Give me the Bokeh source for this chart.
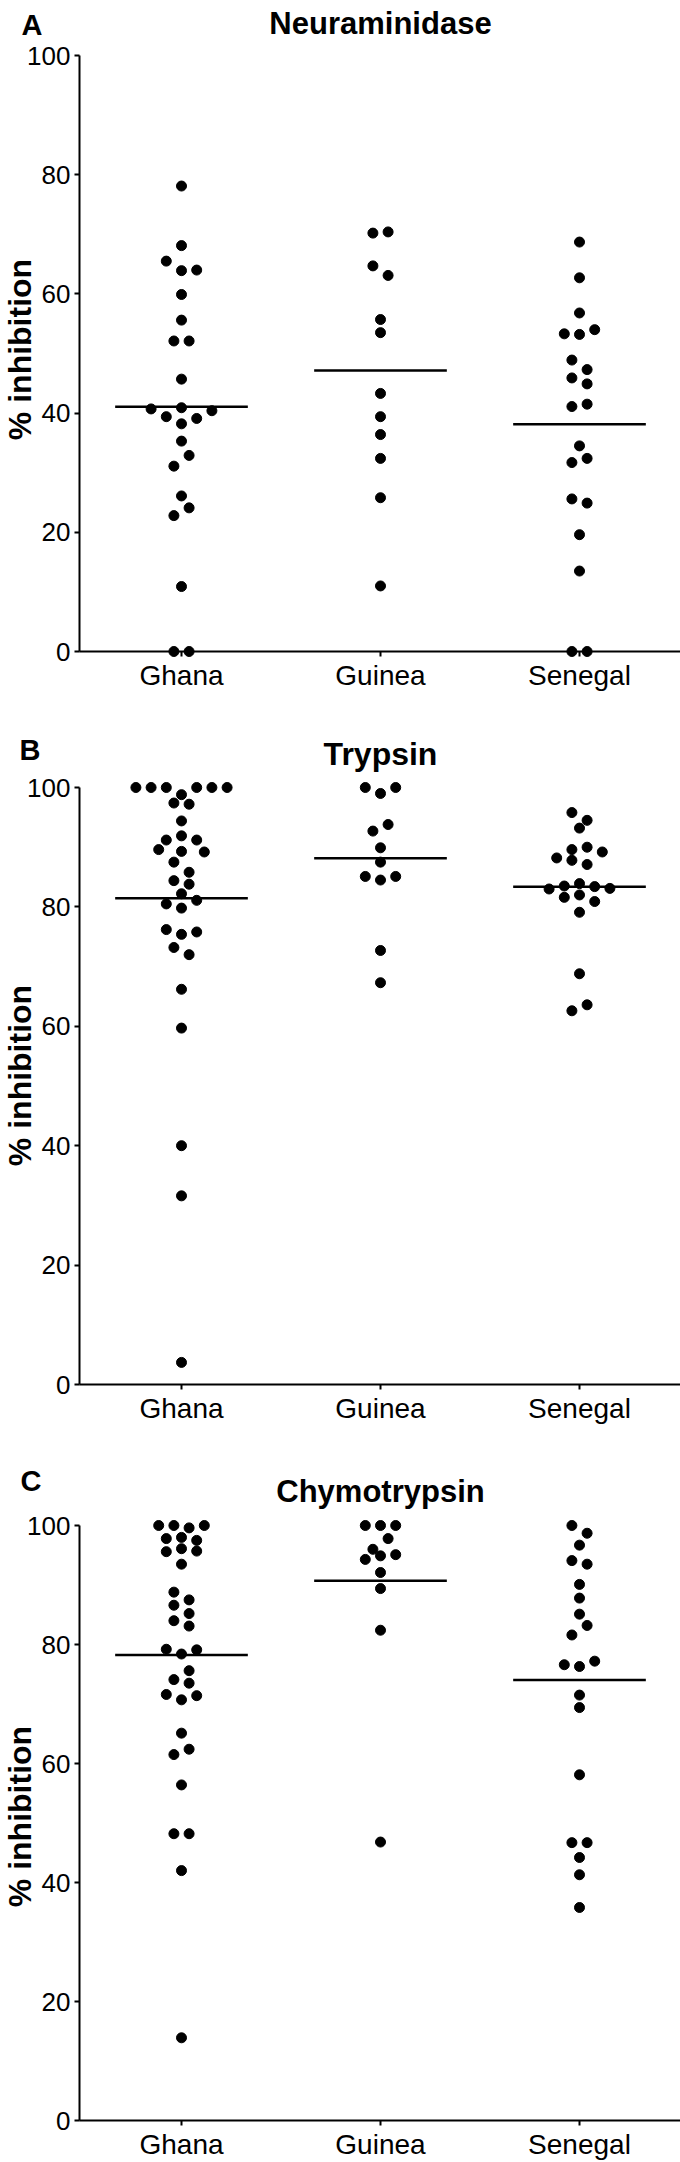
import math
import numpy as np
from bokeh.plotting import figure
from bokeh.layouts import column
from bokeh.models import Range1d, FixedTicker, ColumnDataSource
from bokeh.core.properties import value
from bokeh.embed import file_html
from bokeh.resources import INLINE

# ---------------- data ----------------
categories = ["Ghana", "Guinea", "Senegal"]
y_ticks = [0, 20, 40, 60, 80, 100]
panel_titles = ["Neuraminidase", "Trypsin", "Chymotrypsin"]
panel_letters = ["A", "B", "C"]
y_label = "% inhibition"

neur_ghana = [78.1, 68.1, 65.5, 63.9, 64.0, 59.9, 55.6, 52.1, 52.1, 45.7, 40.7, 39.4, 40.9,
              39.1, 40.4, 38.2, 35.3, 31.1, 32.9, 26.1, 22.8, 24.1, 10.9, 0.0, 0.0]
neur_guinea = [70.2, 70.4, 64.7, 63.1, 55.7, 53.5, 43.3, 39.4, 36.4, 32.4, 25.8, 11.0]
neur_senegal = [68.7, 62.7, 56.8, 53.3, 53.2, 54.0, 48.9, 47.3, 45.9, 44.9, 41.1, 41.5, 34.5,
                31.7, 32.4, 25.6, 24.9, 19.6, 13.5, 0.0, 0.0]

tryp_ghana = [100, 100, 100, 98.8, 100, 100, 100, 97.4, 97.2, 94.4, 91.2, 91.9, 91.2, 89.6,
              89.3, 89.2, 87.5, 85.8, 84.4, 83.8, 80.5, 82.2, 81.1, 79.8, 76.2, 75.4, 75.8,
              73.2, 72.0, 66.2, 59.7, 40.0, 31.6, 3.7]
tryp_guinea = [100, 99.0, 100, 92.7, 93.8, 89.9, 87.5, 85.1, 84.5, 85.1, 72.7, 67.3]
tryp_senegal = [95.8, 94.5, 93.2, 88.2, 89.6, 90.0, 89.2, 87.8, 87.1, 83.0, 83.5, 83.9, 83.4,
                83.1, 81.6, 82.0, 80.9, 79.1, 68.8, 62.6, 63.6]

chymo_ghana = [100, 100, 99.6, 100, 97.8, 98.0, 97.5, 95.6, 96.1, 95.7, 93.5, 88.8, 87.5, 86.6,
               85.2, 84.0, 83.1, 79.2, 78.4, 79.1, 74.1, 75.6, 73.5, 71.6, 70.7, 71.4, 65.1,
               61.5, 62.4, 56.4, 48.2, 48.2, 42.0, 13.9]
chymo_guinea = [100, 100, 100, 96.0, 97.8, 94.3, 94.9, 95.1, 92.1, 89.4, 82.4, 46.8]
chymo_senegal = [100, 98.7, 96.7, 94.1, 93.5, 90.1, 87.8, 85.1, 81.6, 83.2, 76.6, 76.3, 77.2,
                 71.5, 69.4, 58.1, 46.7, 46.7, 44.2, 41.3, 35.8]

# ---------------- layout / style ----------------
FONT = "Liberation Sans"
W = 680
FRAME_LEFT = 79          # px inside figure
PX_PER_CAT = 199.0
CAT0_PX = 102.0          # first category centre from frame left
SLOT_PX = 7.6            # horizontal spread step of the scatter
DOT = 10
GROUP_H = 1.85           # values closer than this share a row
COLLIDE = 10.0


def swarm_slots(vals, ppy):
    n = len(vals)
    order = sorted(range(n), key=lambda i: -vals[i])
    groups = []
    for i in order:
        if groups and vals[groups[-1][0]] - vals[i] < GROUP_H:
            groups[-1].append(i)
        else:
            groups.append([i])
    cands = [(2, 0), (3, 0), (4, 0), (2, -1), (2, 1), (5, 0), (2, -2), (2, 2),
             (6, 0), (2, -3), (2, 3), (2, -4), (2, 4), (2, -5), (2, 5)]
    slots = [0.0] * n
    placed = []
    for g in groups:
        g = sorted(g)
        m = len(g)
        chosen = None
        for sp, sh in cands:
            pos = [sp * (j - (m - 1) / 2.0) + sh for j in range(m)]
            ok = True
            for idx, ps in zip(g, pos):
                for (qs, qv) in placed:
                    d = math.hypot((ps - qs) * SLOT_PX, (vals[idx] - qv) * ppy)
                    if d < COLLIDE:
                        ok = False
                        break
                if not ok:
                    break
            if ok:
                chosen = pos
                break
        if chosen is None:
            chosen = [2 * (j - (m - 1) / 2.0) for j in range(m)]
        for idx, ps in zip(g, chosen):
            slots[idx] = ps
            placed.append((ps, vals[idx]))
    return slots


def add_text(p, x, y, text, size, align, angle=0.0, baseline="alphabetic"):
    p.text(x=[x], y=[y], text=[text], angle=angle, text_font=value(FONT),
           text_font_style=value("bold"), text_font_size=value(size),
           text_align=value(align), text_baseline=value(baseline),
           text_color="black", level="overlay")


def make_panel(k, series, page_top, height, top, bottom, title_size,
               letter_page, title_base, ylab_center):
    frame_w = W - FRAME_LEFT
    frame_h = height - top - bottom
    ppy = frame_h / 100.0
    x0 = -CAT0_PX / PX_PER_CAT
    x1 = x0 + frame_w / PX_PER_CAT

    def xd(page_x):
        return (page_x - FRAME_LEFT - CAT0_PX) / PX_PER_CAT

    def yd(page_y):
        return 100 - (page_y - page_top - top) * 100.0 / frame_h

    p = figure(width=W, height=height, x_range=Range1d(x0, x1), y_range=Range1d(0, 100),
               output_backend="svg", toolbar_location=None, title=None,
               min_border_left=FRAME_LEFT, min_border_right=0,
               min_border_top=top, min_border_bottom=bottom)
    p.outline_line_color = None
    p.grid.visible = False
    p.background_fill_color = "white"
    p.border_fill_color = "white"

    for ax in (p.xaxis[0], p.yaxis[0]):
        ax.axis_line_width = 2
        ax.axis_line_color = "black"
        ax.major_tick_line_width = 2
        ax.major_tick_line_color = "black"
        ax.major_tick_out = 5
        ax.major_tick_in = 0
        ax.minor_tick_line_color = None
        ax.major_label_text_font = FONT
        ax.major_label_text_color = "black"
        ax.major_label_standoff = 4
    p.yaxis[0].ticker = FixedTicker(ticks=y_ticks)
    p.yaxis[0].major_label_text_font_size = "26px"
    p.xaxis[0].ticker = FixedTicker(ticks=list(range(len(categories))))
    p.xaxis[0].major_label_overrides = {i: c for i, c in enumerate(categories)}
    p.xaxis[0].major_label_text_font_size = "28px"
    p.xaxis[0].major_label_standoff = 3

    for i, vals in enumerate(series):
        slots = swarm_slots(vals, ppy)
        xs = [i + s * SLOT_PX / PX_PER_CAT for s in slots]
        src = ColumnDataSource(dict(x=xs, y=vals))
        p.scatter(x="x", y="y", source=src, size=DOT, color="black", level="overlay")
        m = float(np.mean(vals))
        p.segment(x0=[i - 1 / 3], x1=[i + 1 / 3], y0=[m], y1=[m],
                  line_width=2.5, color="black")

    add_text(p, xd(letter_page[0]), yd(letter_page[1]), panel_letters[k], "29px", "left")
    add_text(p, 1.0, yd(title_base), panel_titles[k], title_size, "center")
    add_text(p, xd(19), yd(ylab_center), y_label, "32px", "center", angle=math.pi / 2,
             baseline="middle")
    return p


pA = make_panel(0, [neur_ghana, neur_guinea, neur_senegal], 0, 700, 55, 49, "31px",
                (21, 24.3), 22.5, 349)
pB = make_panel(1, [tryp_ghana, tryp_guinea, tryp_senegal], 700, 740, 87, 56, "32px",
                (19, 749), 753.5, 1075)
pC = make_panel(2, [chymo_ghana, chymo_guinea, chymo_senegal], 1440, 722, 85, 40, "31px",
                (20, 1480), 1491, 1817)

layout = column(pA, pB, pC)
open("out.html", "w").write(file_html(layout, INLINE))
